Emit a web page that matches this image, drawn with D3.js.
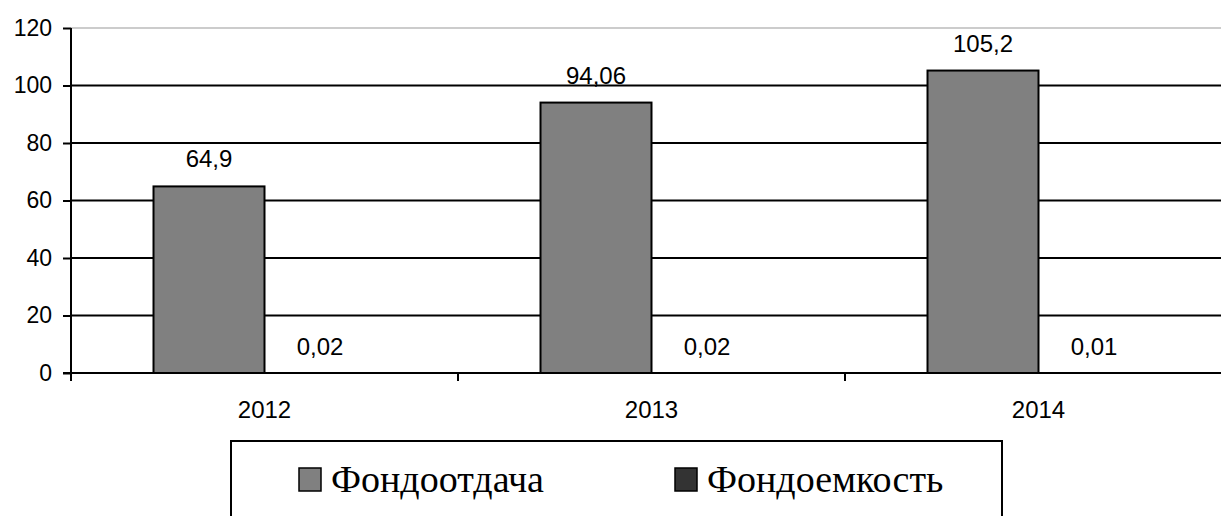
<!DOCTYPE html>
<html>
<head>
<meta charset="utf-8">
<script src="https://cdn.jsdelivr.net/npm/d3@7"></script>
<style>
  body { margin: 0; background: #fff; }
  svg { display: block; }
</style>
</head>
<body>
<div id="chart"></div>
<script>
// Data
const years = ['2012', '2013', '2014'];
const seriesNames = ['Фондоотдача', 'Фондоемкость'];
const fondootdacha = [64.9, 94.06, 105.2];
const fondoemkost = [0.02, 0.02, 0.01];
const yTicks = [0, 20, 40, 60, 80, 100, 120];
const seriesColors = ['#808080', '#333333'];

const width = 1221, height = 516;
const margin = { left: 71, top: 28, bottom: 143 };
const plotW = 387 * 3;
const y0 = height - margin.bottom;
const sansFont = 'Liberation Sans, Arial, sans-serif';

const svg = d3.select('#chart').append('svg')
    .attr('width', width)
    .attr('height', height);

// Scales
let x = d3.scaleBand()
    .domain(years)
    .range([margin.left, margin.left + plotW]);

let xSub = d3.scaleBand()
    .domain(seriesNames)
    .range([0, x.bandwidth()])
    .paddingOuter(0.7434)
    .paddingInner(0);

let y = d3.scaleLinear()
    .domain([0, 120])
    .range([y0, margin.top]);

// Gridlines
svg.append('g')
    .selectAll('line')
    .data(yTicks.filter(d => d > 0))
    .enter()
    .append('line')
    .attr('x1', margin.left)
    .attr('x2', margin.left + plotW)
    .attr('y1', d => y(d))
    .attr('y2', d => y(d))
    .attr('stroke', d => d === 120 ? '#bbbbbb' : '#000')
    .attr('stroke-width', d => d === 120 ? 1.5 : 2);

// Bars
const rows = years.map((yr, i) => ({ year: yr, values: [fondootdacha[i], fondoemkost[i]] }));

let groups = svg.append('g')
    .selectAll('g')
    .data(rows)
    .enter()
    .append('g')
    .attr('transform', d => 'translate(' + x(d.year) + ',0)');

groups.selectAll('rect')
    .data(d => d.values.map((v, j) => ({ name: seriesNames[j], value: v, j: j })))
    .enter()
    .append('rect')
    .attr('x', d => xSub(d.name))
    .attr('width', xSub.bandwidth())
    .attr('y', d => y(d.value))
    .attr('height', d => y0 - y(d.value))
    .attr('fill', d => seriesColors[d.j])
    .attr('stroke', '#000')
    .attr('stroke-width', d => d.value > 1 ? 2 : 0);

// Value labels
groups.selectAll('text')
    .data(d => d.values.map((v, j) => ({ name: seriesNames[j], value: v })))
    .enter()
    .append('text')
    .attr('x', d => xSub(d.name) + xSub.bandwidth() / 2)
    .attr('y', d => d.value > 1 ? y(d.value) - 19 : y0 - 18)
    .attr('text-anchor', 'middle')
    .style('font-family', sansFont)
    .style('font-size', '24px')
    .text(d => String(d.value).replace('.', ','));

// Y axis
let yAxis = d3.axisLeft(y)
    .tickValues(yTicks)
    .tickSize(8)
    .tickPadding(11)
    .tickFormat(d3.format('d'));

svg.append('g')
    .attr('transform', 'translate(' + margin.left + ',0)')
    .call(yAxis)
    .call(g => g.select('.domain').attr('stroke-width', 2).attr('d', 'M0,' + y0 + 'V' + margin.top))
    .call(g => g.selectAll('.tick line').attr('stroke-width', 2))
    .call(g => g.selectAll('.tick text')
        .style('font-family', sansFont)
        .style('font-size', '23px')
        .attr('fill', '#000'));

// X axis
svg.append('line')
    .attr('x1', margin.left - 8)
    .attr('x2', margin.left + plotW)
    .attr('y1', y0)
    .attr('y2', y0)
    .attr('stroke', '#000')
    .attr('stroke-width', 2);

svg.append('g')
    .selectAll('line')
    .data(years)
    .enter()
    .append('line')
    .attr('x1', d => x(d))
    .attr('x2', d => x(d))
    .attr('y1', y0)
    .attr('y2', y0 + 8)
    .attr('stroke', '#000')
    .attr('stroke-width', 2);

svg.append('g')
    .selectAll('text')
    .data(years)
    .enter()
    .append('text')
    .attr('x', d => x(d) + x.bandwidth() / 2)
    .attr('y', y0 + 45)
    .attr('text-anchor', 'middle')
    .style('font-family', sansFont)
    .style('font-size', '24px')
    .text(d => d);

// Legend
let legend = svg.append('g');

legend.append('rect')
    .attr('x', 231)
    .attr('y', 441)
    .attr('width', 771)
    .attr('height', 100)
    .attr('fill', 'none')
    .attr('stroke', '#000')
    .attr('stroke-width', 2);

const legendX = [299, 675];
seriesNames.forEach((name, i) => {
    legend.append('rect')
        .attr('x', legendX[i])
        .attr('y', 468)
        .attr('width', 22)
        .attr('height', 23)
        .attr('fill', seriesColors[i])
        .attr('stroke', '#000')
        .attr('stroke-width', 1.5);
    legend.append('text')
        .attr('x', legendX[i] + 32)
        .attr('y', 492)
        .style('font-family', 'Liberation Serif, Times New Roman, serif')
        .style('font-size', '38px')
        .text(name);
});
</script>
</body>
</html>
